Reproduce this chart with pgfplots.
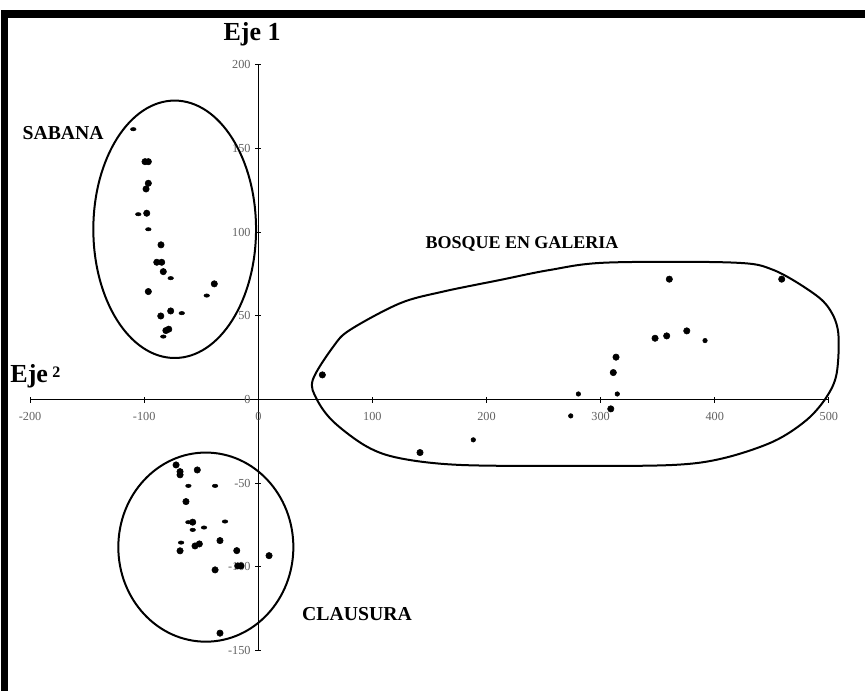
\documentclass[border=0pt]{standalone}
\usepackage{pgfplots}
\pgfplotsset{compat=1.18}
\usepackage{fontspec}
\setmainfont{Liberation Serif}
\begin{document}
\begin{tikzpicture}
\begin{axis}[
  scale only axis, width=599.25pt, height=439.5pt,
  xmin=-200, xmax=500, ymin=-150, ymax=200,
  axis lines=middle,
  axis line style={line width=1.1pt,-},
  clip=false,
  xtick={-200,-100,...,500},
  ytick={-150,-100,...,200},
  hide obscured x ticks=false, hide obscured y ticks=false,
  tick align=center, major tick length=4.5pt,
  tick style={line width=0.9pt,black},
  ticklabel style={font=\fontsize{9.2}{10}\selectfont, text=black!62},
  /pgf/number format/assume math mode=true,
  xticklabel style={yshift=-3.5pt},
]
% frame and bounding box
\coordinate (bl) at (axis cs:-226.4,-174.1);
\coordinate (tr) at (axis cs:531.7,238.7);
\fill[black] (axis cs:-225.5,-174.1) rectangle (axis cs:-219.6,232.8);
\fill[black] (axis cs:-225.5,232.8) rectangle (axis cs:531.7,228.0);

% group outlines
\draw[line width=1.5pt] (axis cs:-73.3,101.7) ellipse [x radius=71.3, y radius=76.9];
\draw[line width=1.5pt] (axis cs:-46.0,-88.2) ellipse [x radius=76.7, y radius=56.5];
\addplot[line width=1.5pt, smooth cycle, tension=0.55] coordinates {
 (47.7,11.7) (65.7,31.6) (80.4,41.6) (124.2,57.5) (162.1,64.5) (211.8,71.4)
 (255.6,77.4) (305.3,81.8) (416.3,81.8) (451.4,77.4) (486.4,63.5) (501.1,53.5)
 (508.3,39.6) (506.9,15.7) (498.2,1.7) (480.6,-12.2) (451.4,-25.1) (407.5,-35.1)
 (363.7,-39.1) (276.1,-39.7) (176.8,-39.1) (124.2,-35.1) (95.0,-28.1) (65.7,-13.2)
 (51.2,0.2)
};

% SABANA
\addplot[only marks, mark=*, mark size=2.4pt, black] coordinates {
 (-99.3,142.1) (-96.4,142.1) (-96.4,129.2) (-98.4,125.8) (-97.8,111.3)
 (-85.3,92.4) (-89.0,82.0) (-84.7,82.0) (-83.3,76.4) (-96.4,64.5)
 (-38.6,69.1) (-85.5,49.9) (-76.8,52.9) (-81.0,41.2) (-78.5,42.0)
};
\addplot[only marks, mark=*, mark size=2.1pt, mark options={yscale=0.6}, black] coordinates {
 (-109.6,161.5) (-105.2,110.7) (-96.4,101.7) (-76.8,72.5) (-45.2,62.1)
 (-67.1,51.6) (-83.3,37.6)
};
% CLAUSURA
\addplot[only marks, mark=*, mark size=2.4pt, black] coordinates {
 (-72.1,-39.1) (-68.6,-43.1) (-68.6,-45.0) (-53.5,-42.1) (-63.4,-61.0)
 (-57.5,-73.3) (-68.6,-90.4) (-55.5,-87.5) (-51.7,-86.3) (-33.6,-84.3)
 (-18.9,-90.3) (9.4,-93.3) (-18.0,-99.4) (-15.2,-99.4) (-37.9,-101.8)
 (-33.6,-139.6)
};
\addplot[only marks, mark=*, mark size=2.1pt, mark options={yscale=0.6}, black] coordinates {
 (-61.3,-51.6) (-37.9,-51.6) (-61.3,-73.3) (-57.5,-77.9) (-47.6,-76.5)
 (-29.2,-72.9) (-67.7,-85.5)
};
% BOSQUE EN GALERIA
\addplot[only marks, mark=*, mark size=2.4pt, black] coordinates {
 (56.1,14.7) (141.7,-31.7) (360.2,71.9) (458.7,71.9) (347.7,36.6)
 (357.9,38.0) (375.5,41.0) (313.5,25.3) (311.1,16.1) (308.9,-5.6)
};
\addplot[only marks, mark=*, mark size=1.7pt, black] coordinates {
 (188.4,-24.1) (391.5,35.2) (280.5,3.3) (314.6,3.3) (273.8,-9.8)
};

% labels
\node[font=\bfseries\fontsize{19.5}{20}\selectfont] at (axis cs:-5.5,218.4) {Eje 1};
\node[anchor=west, inner sep=0pt, font=\bfseries\fontsize{19.5}{20}\selectfont] at (axis cs:-217.5,14.1) {Eje\,\raisebox{0.35ex}{\fontsize{12}{12}\selectfont 2}};
\node[font=\bfseries\fontsize{14.8}{15}\selectfont] at (axis cs:-171.1,159.2) {SABANA};
\node[font=\bfseries\fontsize{13.5}{14}\selectfont] at (axis cs:231.1,92.9) {BOSQUE EN GALERIA};
\node[font=\bfseries\fontsize{14.8}{15}\selectfont] at (axis cs:86.5,-128.1) {CLAUSURA};
\end{axis}
\pgfresetboundingbox
\path[use as bounding box] (bl) rectangle (tr);
\end{tikzpicture}
\end{document}
